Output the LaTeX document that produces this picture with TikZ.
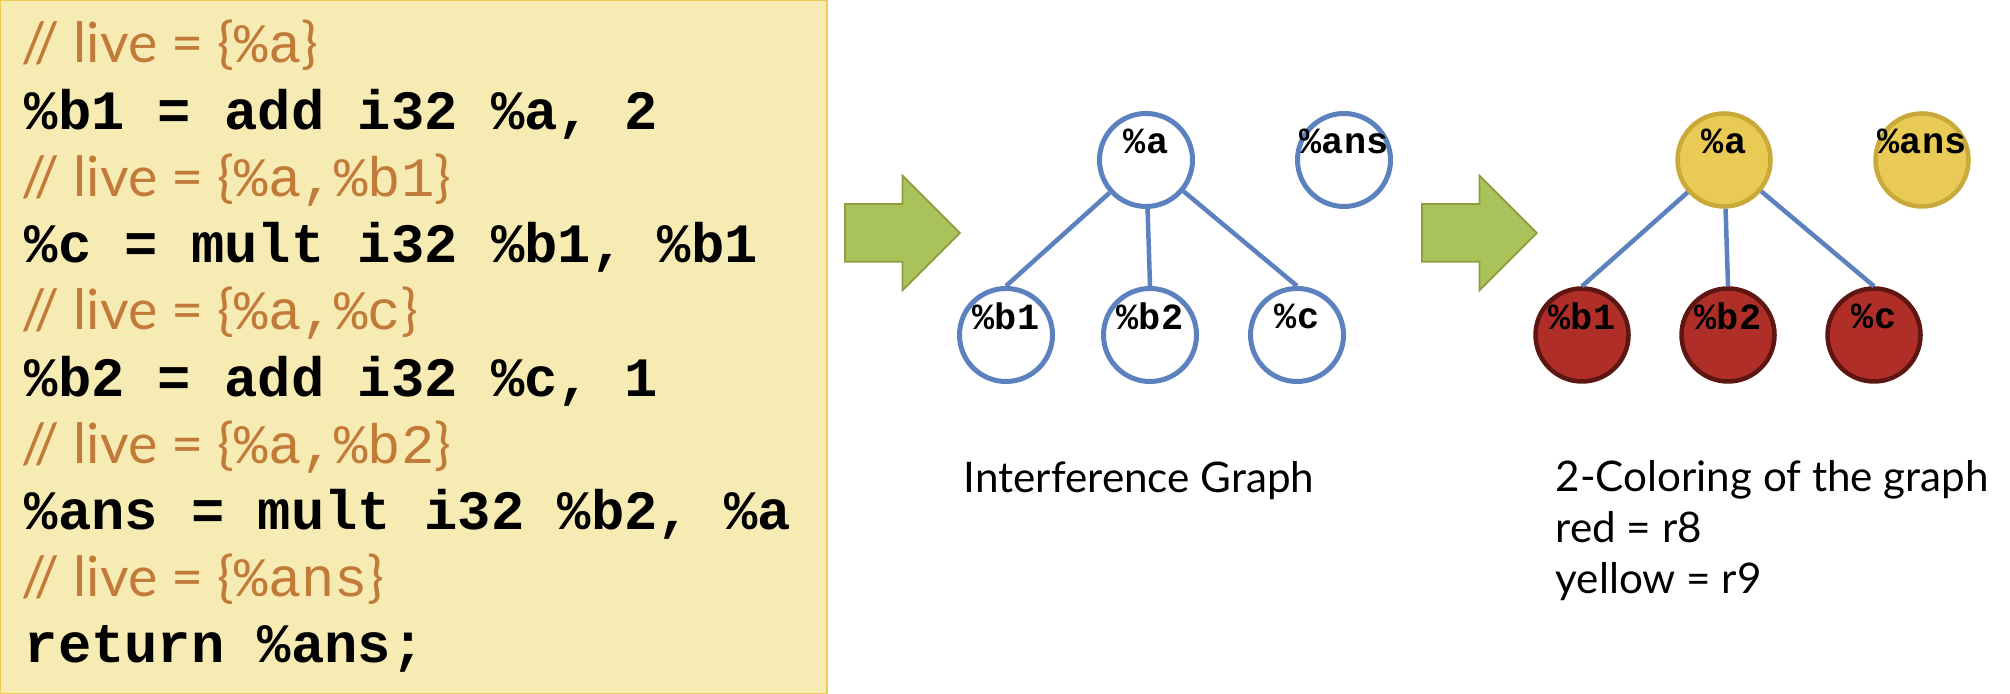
\documentclass[tikz,border=0pt]{standalone}
\usepackage{fontspec}
\usepackage{tikz}
\usetikzlibrary{shapes.arrows,positioning}
\newfontfamily\notefont{Lato}
\newfontfamily\codefont{Liberation Mono}
\definecolor{boxfill}{HTML}{F7EBB4}
\definecolor{boxline}{HTML}{EBCB52}
\definecolor{livecol}{HTML}{C27A38}
\definecolor{interfblue}{HTML}{5B82BE}
\definecolor{arrowgreen}{HTML}{A9C25A}
\definecolor{arrowline}{HTML}{8F9B3C}
\definecolor{regyellow}{HTML}{E8CA55}
\definecolor{regyellowline}{HTML}{C9A93A}
\definecolor{regred}{HTML}{B02E28}
\definecolor{regredline}{HTML}{5E1612}
\tikzset{
	liveline/.style={anchor=base west, inner sep=0pt, text=livecol, font=\notefont\fontsize{15.8}{18}\selectfont},
	codeline/.style={anchor=base west, inner sep=0pt, font=\codefont\bfseries\fontsize{15.8}{18}\selectfont},
	caption/.style={anchor=base west, inner sep=0pt, font=\notefont\fontsize{12}{14}\selectfont},
	flowarrow/.style={single arrow, anchor=tail, fill=arrowgreen, draw=arrowline, line width=0.5pt,
		minimum height=1.15cm, inner xsep=0pt, inner ysep=0.28cm, single arrow head extend=0.285cm},
	reglabel/.style={font=\codefont\bfseries\fontsize{10.5}{12}\selectfont, inner sep=0pt, yshift=0.19cm},
	regnode/.style={circle, draw=interfblue, fill=white, line width=0.05cm, minimum size=0.93cm, inner sep=0pt},
	yellow reg/.style={regnode, fill=regyellow, draw=regyellowline, line width=0.045cm},
	red reg/.style={regnode, fill=regred, draw=regredline, line width=0.045cm},
	interf/.style={draw=interfblue, line width=0.045cm},
}
\newcommand\lvar[1]{{\codefont#1}}
\begin{document}
\begin{tikzpicture}
	\useasboundingbox (0,0) rectangle (20.10,6.94);
	% code with live sets
	\draw[fill=boxfill, draw=boxline, line width=0.7pt] (0,0) rectangle (8.27,6.94);
	\node[liveline] (live1) at (0.21,6.31) {// live = \{\lvar{\%a}\}};
	\node[codeline] (instr1) at (0.24,5.64) {\%b1 = add i32 \%a, 2};
	\node[liveline] (live2) at (0.21,4.97) {// live = \{\lvar{\%a,\%b1}\}};
	\node[codeline] (instr2) at (0.24,4.31) {\%c = mult i32 \%b1, \%b1};
	\node[liveline] (live3) at (0.21,3.64) {// live = \{\lvar{\%a,\%c}\}};
	\node[codeline] (instr3) at (0.24,2.97) {\%b2 = add i32 \%c, 1};
	\node[liveline] (live4) at (0.21,2.30) {// live = \{\lvar{\%a,\%b2}\}};
	\node[codeline] (instr4) at (0.24,1.64) {\%ans = mult i32 \%b2, \%a};
	\node[liveline] (live5) at (0.21,0.97) {// live = \{\lvar{\%ans}\}};
	\node[codeline] (ret) at (0.24,0.31) {return \%ans;};

	\node[flowarrow] (step1) at (8.44,4.61) {};
	\node[flowarrow] (step2) at (14.21,4.61) {};

	% interference graph
	\foreach \v/\x/\y in {a/11.46/5.34, ans/13.44/5.34, b1/10.06/3.59, b2/11.50/3.59, c/12.97/3.59}
	{
		\node[regnode, label={[reglabel]center:\%\v}] (g\v) at (\x,\y) {};
	}
	\foreach \v in {b1,b2,c}
		\draw[interf] (ga) -- (g\v.north);
	\node[caption] (gcap) at (9.63,2.01) {Interference Graph};

	% 2-coloring
	\foreach \v/\x/\y/\c in {a/17.24/5.34/yellow, ans/19.22/5.34/yellow, b1/15.82/3.59/red, b2/17.28/3.59/red, c/18.74/3.59/red}
	{
		\node[\c\space reg, label={[reglabel]center:\%\v}] (k\v) at (\x,\y) {};
	}
	\foreach \v in {b1,b2,c}
		\draw[interf] (ka) -- (k\v.north);
	\node[caption] (kcap) at (15.55,2.02) {2-Coloring of the graph};
	\node[caption] (kred) at ([yshift=-0.51cm]kcap.base west) {red = r8};
	\node[caption] (kyellow) at ([yshift=-0.51cm]kred.base west) {yellow = r9};
\end{tikzpicture}
\end{document}
